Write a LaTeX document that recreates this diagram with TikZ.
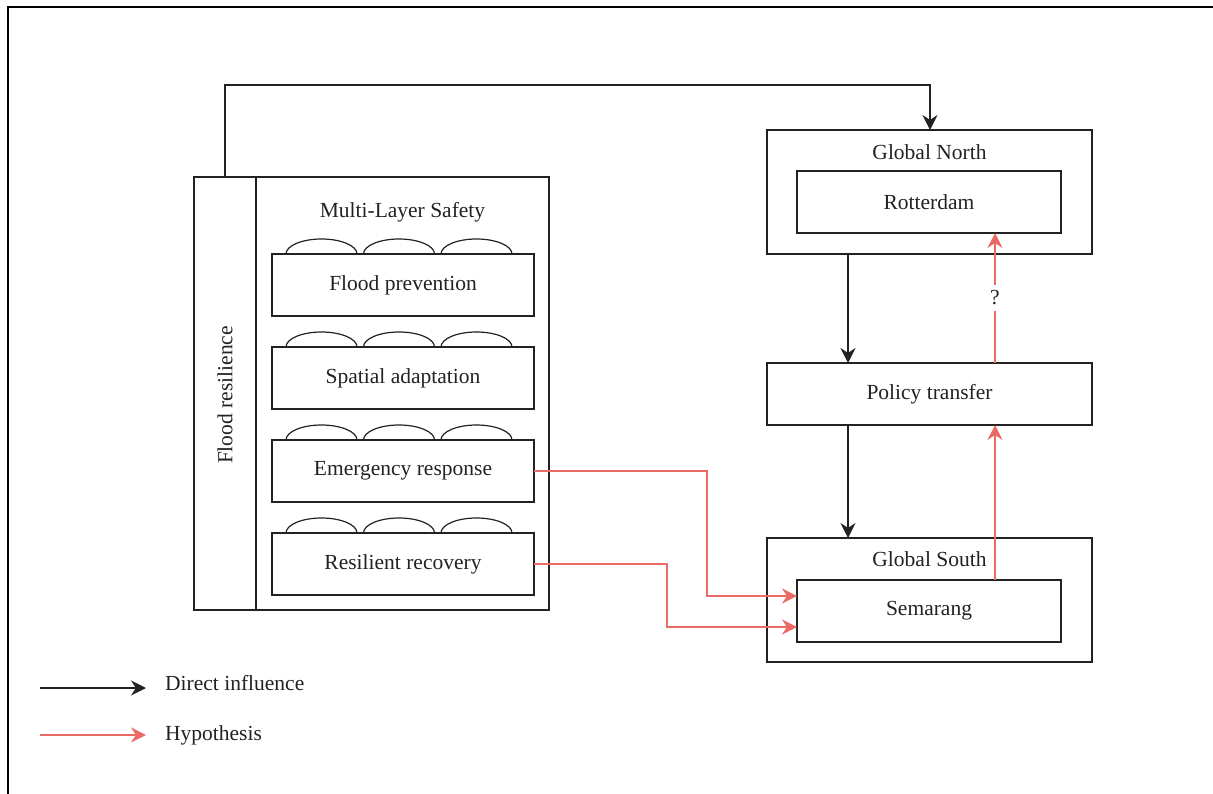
\documentclass[tikz,border=0pt]{standalone}
\usepackage{fontspec}
\setmainfont{Liberation Serif}
\usetikzlibrary{arrows.meta,calc}
\definecolor{hyp}{HTML}{EA6B66}
\definecolor{ln}{HTML}{222222}
\tikzset{
  box/.style={draw=ln, line width=1.3pt, inner sep=0pt, outer sep=0pt, align=center, text=ln},
  lbl/.style={inner sep=0pt, text=ln},
  blk/.style={draw=ln, line width=1.3pt, -{Stealth[length=15pt,width=15pt,inset=5pt]}},
  redarr/.style={draw=hyp, line width=1.3pt, -{Stealth[length=15pt,width=15pt,inset=5pt]}},
  hump/.style={draw=ln, line width=1.2pt},
}
\begin{document}
\begin{tikzpicture}[x=1pt,y=-1pt,font=\fontsize{21.5}{25}\selectfont]
\useasboundingbox (0,0) rectangle (1213,794);
% outer frame (cropped)
\draw[line width=1.5pt] (8,794) -- (8,7) -- (1213,7);

% left block
\node[box, minimum width=62, minimum height=433] (fr) at (225,393.5) {};
\node[lbl, rotate=90] (frt) at (225,395) {Flood resilience};
\node[box, minimum width=293, minimum height=433] (mls) at (402.5,393.5) {};
\node[lbl] (mlst) at (402.5,212) {Multi-Layer Safety};

\foreach \nm/\yy/\tx in {fp/285/Flood prevention, sa/378/Spatial adaptation, er/471/Emergency response, rr/564/Resilient recovery}{
  \node[box, minimum width=262, minimum height=62] (\nm) at (403,\yy) {\tx};
  \foreach \cx in {321.5,399,476.5}{
    \draw[hump] (\cx-35.5,\yy-31) arc[start angle=180, end angle=0, x radius=35.5, y radius=-15];
  }
}

% right block
\node[box, minimum width=325, minimum height=124] (gn) at (929.5,192) {};
\node[lbl] (gnt) at (929.5,152) {Global North};
\node[box, minimum width=264, minimum height=62] (rot) at (929,202) {Rotterdam};
\node[box, minimum width=325, minimum height=62] (pt) at (929.5,394) {Policy transfer};
\node[box, minimum width=325, minimum height=124] (gs) at (929.5,600) {};
\node[lbl] (gst) at (929.5,559) {Global South};
\node[box, minimum width=264, minimum height=62] (sem) at (929,611) {Semarang};

% black connectors
\coordinate (topc) at (930,85);
\draw[blk] (fr.north) |- (topc) -- (gn.north -| topc);
\coordinate (bx) at (848,0);
\draw[blk] (gn.south -| bx) -- (pt.north -| bx);
\draw[blk] (pt.south -| bx) -- (gs.north -| bx);

% red connectors
\coordinate (rx) at (995,0);
\draw[redarr] (sem.north -| rx) -- (pt.south -| rx);
\draw[redarr] (pt.north -| rx) -- node[midway, fill=white, inner xsep=3pt, inner ysep=6pt, text=ln] (q) {?} (rot.south -| rx);
\coordinate (c1) at (707,596);
\draw[redarr] (er.east) -| (c1) -- (sem.west |- c1);
\coordinate (c2) at (667,627);
\draw[redarr] (rr.east) -| (c2) -- (sem.west |- c2);

% legend
\coordinate (la) at (40,688);
\coordinate (lb) at (146,688);
\draw[blk] (la) -- (lb);
\node[lbl, anchor=west] (lt1) at (165,683) {Direct influence};
\coordinate (lc) at (40,735);
\coordinate (ld) at (146,735);
\draw[redarr] (lc) -- (ld);
\node[lbl, anchor=west] (lt2) at (165,735) {Hypothesis};
\end{tikzpicture}
\end{document}
